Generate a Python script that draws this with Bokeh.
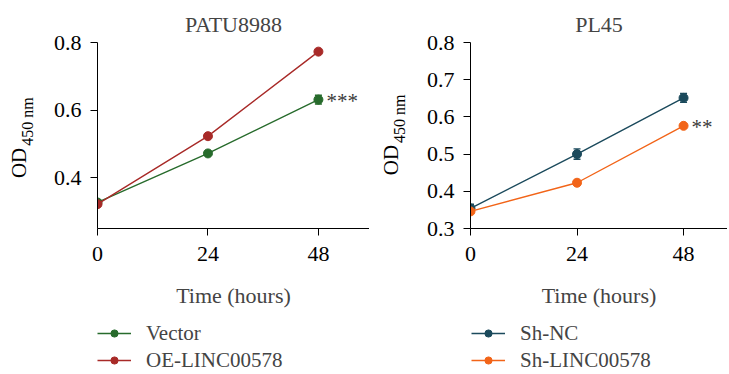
from bokeh.plotting import figure
from bokeh.layouts import row, column
from bokeh.models import (ColumnDataSource, Whisker, TeeHead, Label, Legend, LegendItem,
                          FixedTicker, Range1d)
from bokeh.core.properties import value
from bokeh.embed import file_html
from bokeh.resources import INLINE
import math

hours = [0, 24, 48]

# PATU8988
vector = [0.327, 0.472, 0.631]
vector_err = [0.006, 0.004, 0.013]
oe = [0.322, 0.523, 0.773]
oe_err = [0.004, 0.004, 0.004]

# PL45
sh_nc = [0.354, 0.500, 0.651]
sh_nc_err = [0.011, 0.014, 0.012]
sh_linc = [0.346, 0.423, 0.576]
sh_linc_err = [0.004, 0.004, 0.004]

FONT = "Liberation Serif"
GREEN = "#276b2c"
RED = "#a82a28"
TEAL = "#1b4a5c"
ORANGE = "#f26418"

H = 318
TOP = 42
BOTTOM = 90
LEG_H = 55


def make_source(vals, errs):
    return ColumnDataSource(dict(x=hours, y=vals,
                                 lo=[v - e for v, e in zip(vals, errs)],
                                 hi=[v + e for v, e in zip(vals, errs)]))


def make_od(width, yr, od_x, od_y, sub_x, sub_y):
    q = figure(width=width, height=H, output_backend="svg", toolbar_location=None,
               x_range=Range1d(0, width), y_range=yr, x_axis_type=None, y_axis_type=None,
               min_border_left=0, min_border_right=0, min_border_top=TOP,
               min_border_bottom=BOTTOM)
    q.outline_line_color = None
    q.grid.visible = False
    q.text(x=[od_x], y=[od_y], text=["OD"], angle=math.pi / 2, text_font=value(FONT),
           text_font_size="21px", text_align="center", text_baseline="middle", text_color="black")
    q.text(x=[sub_x], y=[sub_y], text=["450 nm"], angle=math.pi / 2, text_font=value(FONT),
           text_font_size="16px", text_align="center", text_baseline="middle", text_color="black")
    return q


def make_legend(width, series, left):
    # the series are drawn outside this figure's view; only their legend samples show
    q = figure(width=width, height=LEG_H, output_backend="svg", toolbar_location=None,
               x_range=Range1d(0, 1), y_range=Range1d(0, 0.1), x_axis_type=None,
               y_axis_type=None, min_border=0)
    q.outline_line_color = None
    q.grid.visible = False
    items = []
    for name, vals, errs, color in series:
        src = make_source(vals, errs)
        ln = q.line("x", "y", source=src, line_color=color, line_width=1.4)
        sc = q.scatter("x", "y", source=src, size=7, fill_color=color, line_color=color)
        items.append(LegendItem(label=name, renderers=[ln, sc]))
    legend = Legend(items=items, location=(left, 0), margin=0, padding=0,
                    label_text_font=FONT, label_text_font_size="21px",
                    label_height=26, glyph_height=18, glyph_width=34, spacing=1,
                    label_standoff=15, background_fill_alpha=0, border_line_color=None)
    q.add_layout(legend, "center")
    return q


def make_panel(title, width, border_left, xmax, yr, yticks, series, star_text, star_idx):
    p = figure(width=width, height=H, output_backend="svg", toolbar_location=None,
               x_range=Range1d(0, xmax), y_range=yr,
               min_border_left=border_left, min_border_right=0,
               min_border_top=TOP, min_border_bottom=BOTTOM)
    p.outline_line_color = None
    p.grid.visible = False
    p.title.text = title
    p.title.align = "center"
    p.title.text_font = FONT
    p.title.text_font_size = "22px"
    p.title.text_font_style = "normal"
    p.title.standoff = 12

    for ax in (p.xaxis[0], p.yaxis[0]):
        ax.major_label_text_font = FONT
        ax.major_label_text_font_size = "22px"
        ax.major_tick_out = 7
        ax.major_tick_in = 0
        ax.minor_tick_out = 0
        ax.minor_tick_in = 0
        ax.axis_line_color = "black"
        ax.major_tick_line_color = "black"
        ax.major_label_text_color = "black"
    p.xaxis[0].ticker = FixedTicker(ticks=hours)
    p.yaxis[0].ticker = FixedTicker(ticks=yticks)
    p.xaxis[0].major_label_standoff = 11
    p.yaxis[0].major_label_standoff = 9
    p.xaxis[0].axis_label = "Time (hours)"
    p.xaxis[0].axis_label_text_font = FONT
    p.xaxis[0].axis_label_text_font_size = "22px"
    p.xaxis[0].axis_label_text_font_style = "normal"
    p.xaxis[0].axis_label_standoff = 19

    for name, vals, errs, color in series:
        src = make_source(vals, errs)
        p.line("x", "y", source=src, line_color=color, line_width=1.4)
        w = Whisker(base="x", lower="lo", upper="hi", source=src, dimension="height",
                    line_color=color, line_width=1.4,
                    upper_head=TeeHead(size=7, line_color=color, line_width=1.4),
                    lower_head=TeeHead(size=7, line_color=color, line_width=1.4))
        p.add_layout(w)
        p.scatter("x", "y", source=src, size=9, fill_color=color, line_color=color)

    name, vals, errs, color = series[star_idx]
    p.add_layout(Label(x=hours[-1], y=vals[-1], text=star_text, x_offset=8, y_offset=-1,
                       text_font=FONT, text_font_size="21px", text_baseline="alphabetic",
                       text_color="#3a3a3a"))
    return p


left_series = [("Vector", vector, vector_err, GREEN), ("OE-LINC00578", oe, oe_err, RED)]
right_series = [("Sh-NC", sh_nc, sh_nc_err, TEAL), ("Sh-LINC00578", sh_linc, sh_linc_err, ORANGE)]

yr_left = Range1d(0.25, 0.8)
yr_right = Range1d(0.3, 0.8)

od_left = make_od(40, yr_left, 18, 0.444, 27, 0.566)
left = make_panel("PATU8988", 329, 57, 59.1, yr_left, [0.4, 0.6, 0.8], left_series, "***", 0)
od_right = make_od(40, yr_right, 21, 0.484, 30, 0.595)
right = make_panel("PL45", 318, 61, 57.9, yr_right, [0.3, 0.4, 0.5, 0.6, 0.7, 0.8],
                   right_series, "**", 1)

leg_left = make_legend(369, left_series, 97)
leg_right = make_legend(358, right_series, 102)

layout = column(row(od_left, left, od_right, right), row(leg_left, leg_right))
open("out.html", "w").write(file_html(layout, INLINE))
